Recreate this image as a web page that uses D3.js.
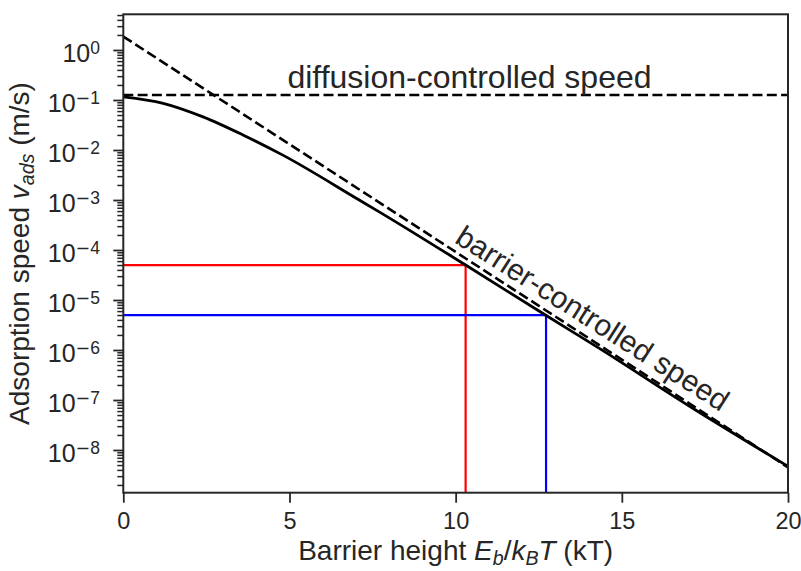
<!DOCTYPE html>
<html><head><meta charset="utf-8">
<script src="https://cdn.jsdelivr.net/npm/d3@7"></script>
<style>
body{margin:0;background:#fff;}
svg{display:block;font-family:Arial,"Liberation Sans",sans-serif;}
</style></head>
<body>
<svg id="chart" width="801" height="571"></svg>
<script>
// ---- data ----
const curveE = [0, 1.2, 2.4, 3.6, 4.8, 7.1, 7.7, 10.3, 12.7, 14.3, 17.05, 20];
const curveV = [0.116, 0.086, 0.046, 0.020, 7.9e-3, 1.0e-3, 5.8e-4, 5.0e-5, 5.0e-6, 1.1e-6, 7.4e-8, 4.7e-9];
const barrierE = [0, 20];
const barrierV = [1.86, 4.5e-9];
const diffusionE = [0, 20];
const diffusionV = [0.126, 0.126];
const markE = [10.3, 12.72];
const markV = [5e-5, 5e-6];
const markColors = ["#ff0000", "#0000ff"];
const xTicks = [0, 5, 10, 15, 20];
const yExponents = [0, -1, -2, -3, -4, -5, -6, -7, -8];
const xDomain = [0, 20];
const yDomain = [Math.pow(10, -8.854), Math.pow(10, 0.714)];

// ---- layout ----
const L = 123.3, R = 788, T = 14.3, B = 492.7;
const ink = "#262626";
const FONT = "Arial, 'Liberation Sans', sans-serif";
const svg = d3.select("#chart");
const x = d3.scaleLinear().domain(xDomain).range([L, R]);
const y = d3.scaleLog().domain(yDomain).range([B, T]);

// minor ticks on y
const minorVals = [];
for (let e = -9; e <= 0; e++) for (let m = 2; m <= 9; m++) {
  const v = m * Math.pow(10, e);
  if (v >= yDomain[0] && v <= yDomain[1]) minorVals.push(v);
}
const yMinor = d3.axisLeft(y).tickValues(minorVals).tickSize(6).tickFormat("");
const gMinor = svg.append("g").attr("transform", `translate(${L},0)`).call(yMinor);
gMinor.select(".domain").remove();
gMinor.selectAll("line").attr("stroke", ink).attr("stroke-width", 1.5);

const yMajor = d3.axisLeft(y).tickValues(yExponents.map(e => Math.pow(10, e))).tickSize(10).tickPadding(13).tickFormat("");
const gy = svg.append("g").attr("transform", `translate(${L},0)`).call(yMajor);
gy.select(".domain").remove();
gy.selectAll("line").attr("stroke", ink).attr("stroke-width", 1.8);
gy.selectAll(".tick").each(function(d) {
  const t = d3.select(this).select("text");
  t.attr("x", -23.3).attr("dy", null).attr("y", 11.5).attr("fill", ink).attr("font-size", 25)
   .attr("text-anchor", "end").attr("font-family", FONT);
  t.text(null);
  t.append("tspan").text("10");
  const ex = Math.round(Math.log10(d));
  const sup = t.append("tspan").attr("font-size", 17.5).attr("dy", -8.4);
  if (ex < 0) {
    sup.append("tspan").attr("font-family", "'DejaVu Sans', sans-serif").text("\u2212");
    sup.append("tspan").text(String(-ex));
  } else sup.text(String(ex));
});

const xAxis = d3.axisBottom(x).tickValues(xTicks).tickSize(10).tickPadding(8).tickFormat(d3.format("d"));
const gx = svg.append("g").attr("transform", `translate(0,${B})`).call(xAxis);
gx.select(".domain").remove();
gx.selectAll("line").attr("stroke", ink).attr("stroke-width", 1.8);
gx.selectAll("text").attr("fill", ink).attr("font-size", 23.5).attr("dy", null).attr("y", 36)
  .attr("font-family", FONT);

// clip for data
svg.append("clipPath").attr("id", "clip").append("rect")
  .attr("x", L).attr("y", T).attr("width", R - L).attr("height", B - T);
const plot = svg.append("g").attr("clip-path", "url(#clip)");

const line = d3.line().x(d => x(d[0])).y(d => y(d[1]));

// marker lines
markE.forEach((e, i) => {
  plot.append("path")
    .attr("d", line([[0, markV[i]], [e, markV[i]], [e, yDomain[0]]]))
    .attr("fill", "none").attr("stroke", markColors[i]).attr("stroke-width", 2.2);
});

// asymptotes
plot.append("path").attr("d", line(barrierE.map((e, i) => [e, barrierV[i]])))
  .attr("fill", "none").attr("stroke", "#000").attr("stroke-width", 2.6)
  .attr("stroke-dasharray", "10,4.3");
plot.append("path").attr("d", line(diffusionE.map((e, i) => [e, diffusionV[i]])))
  .attr("fill", "none").attr("stroke", "#000").attr("stroke-width", 2.6)
  .attr("stroke-dasharray", "10,4.3");

// main curve
plot.append("path")
  .attr("d", d3.line().curve(d3.curveMonotoneX).x(d => x(d[0])).y(d => y(d[1]))(curveE.map((e, i) => [e, curveV[i]])))
  .attr("fill", "none").attr("stroke", "#000").attr("stroke-width", 2.8);

// frame
svg.append("rect").attr("x", L).attr("y", T).attr("width", R - L).attr("height", B - T)
  .attr("fill", "none").attr("stroke", ink).attr("stroke-width", 2);

// annotations
svg.append("text").attr("x", 469.5).attr("y", 88).attr("text-anchor", "middle")
  .attr("font-size", 32).attr("fill", ink).text("diffusion-controlled speed");
svg.append("text").attr("transform", "translate(587,327) rotate(32.5)").attr("text-anchor", "middle")
  .attr("font-size", 30).attr("fill", ink).text("barrier-controlled speed");

// axis labels
const xl = svg.append("text").attr("x", (L + R) / 2).attr("y", 560).attr("text-anchor", "middle")
  .attr("font-size", 28).attr("fill", ink);
xl.append("tspan").text("Barrier height ");
xl.append("tspan").attr("font-style", "italic").text("E");
xl.append("tspan").attr("font-style", "italic").attr("font-size", 19.6).attr("dy", 5).text("b");
xl.append("tspan").attr("dy", -5).text("/");
xl.append("tspan").attr("font-style", "italic").text("k");
xl.append("tspan").attr("font-style", "italic").attr("font-size", 19.6).attr("dy", 5).text("B");
xl.append("tspan").attr("font-style", "italic").attr("dy", -5).text("T");
xl.append("tspan").text(" (kT)");

const yl = svg.append("text").attr("transform", `translate(29,${(T + B) / 2}) rotate(-90)`)
  .attr("text-anchor", "middle").attr("font-size", 28).attr("fill", ink);
yl.append("tspan").text("Adsorption speed ");
yl.append("tspan").attr("font-style", "italic").text("v");
yl.append("tspan").attr("font-style", "italic").attr("font-size", 19.6).attr("dy", 5).text("ads");
yl.append("tspan").attr("dy", -5).text(" (m/s)");
</script>
</body></html>
